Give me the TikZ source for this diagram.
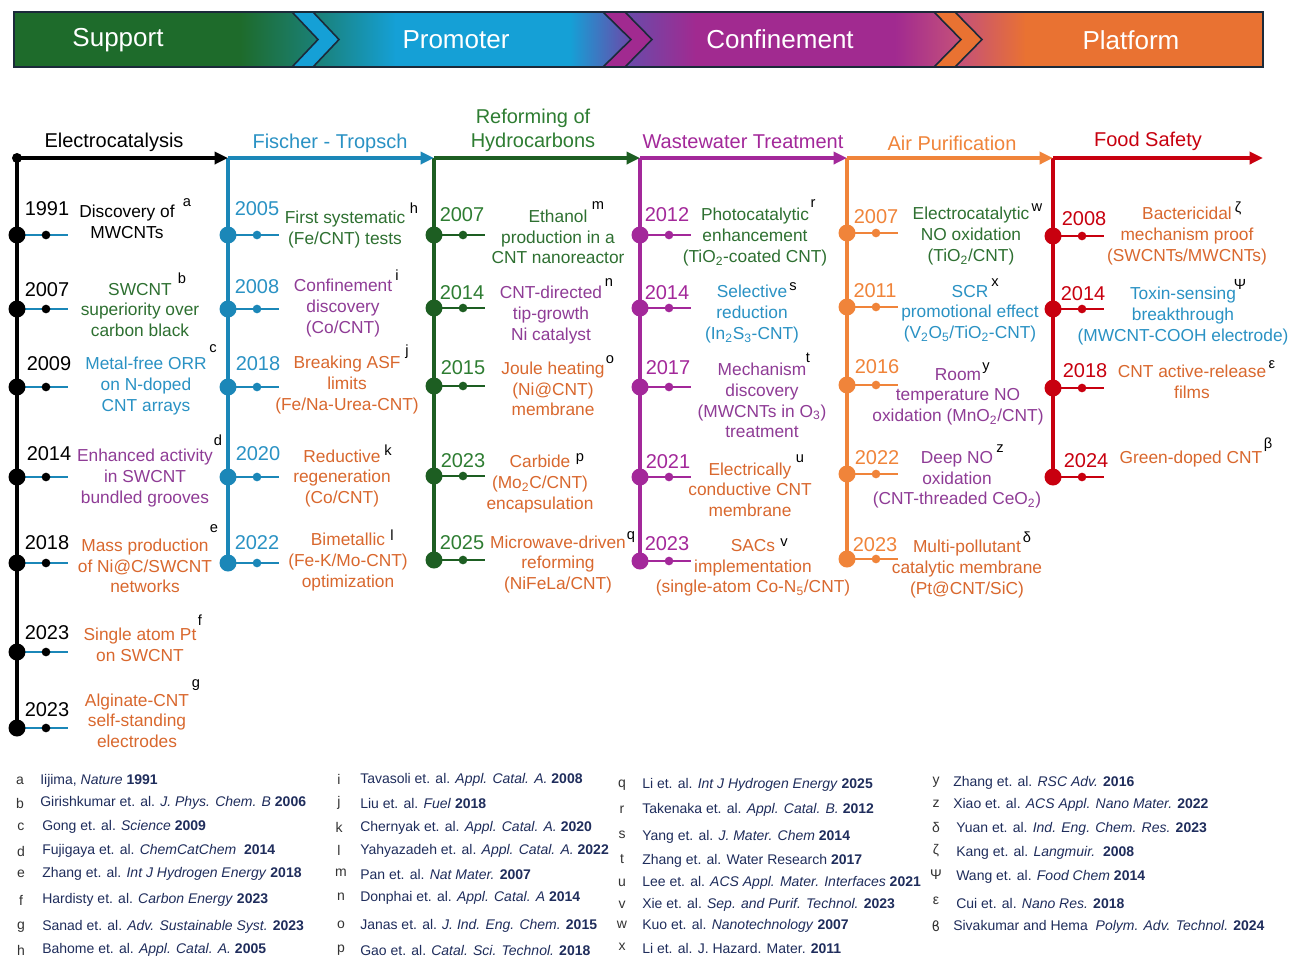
\documentclass[tikz,border=0pt]{standalone}
\usepackage{fontspec}
\setmainfont{Liberation Sans}
\newfontfamily\dejavu{DejaVu Sans}
\usetikzlibrary{arrows.meta}
\definecolor{bnGreen}{HTML}{1E6B2B}
\definecolor{bnTeal}{HTML}{1A8077}
\definecolor{bnBlue}{HTML}{15A0D6}
\definecolor{bnViolet}{HTML}{6A4AAA}
\definecolor{bnPurple}{HTML}{A12A90}
\definecolor{bnRose}{HTML}{C4507A}
\definecolor{bnOrange}{HTML}{E97232}
\definecolor{bnNavy}{HTML}{1B2A3A}
\definecolor{tlBlue}{HTML}{1B87B8}
\definecolor{tlGreen}{HTML}{1D5E22}
\definecolor{tlPurple}{HTML}{A3289A}
\definecolor{tlOrange}{HTML}{F0843A}
\definecolor{tlRed}{HTML}{C8000F}
\definecolor{txGreen}{HTML}{2E7031}
\definecolor{txBlue}{HTML}{2A92C4}
\definecolor{txPurple}{HTML}{8F3C96}
\definecolor{txOrange}{HTML}{D9682E}
\definecolor{hdGreen}{HTML}{2E7D32}
\definecolor{refNavy}{HTML}{1F2D5C}
\definecolor{letGray}{HTML}{333333}
\newcommand\lblfont{\fontsize{13}{15.5}\selectfont}
\newcommand\yrfont{\fontsize{15}{18}\selectfont}
\newcommand\hdfont{\fontsize{15}{18}\selectfont}
\newcommand\bnfont{\fontsize{19.5}{23}\selectfont}
\newcommand\reffont{\fontsize{10.5}{12}\selectfont}
\newcommand\supfont{\fontsize{11}{12}\selectfont}
\newcommand\tev[5]{%
  \coordinate (#1) at (#4,#5);
  \coordinate (#1e) at (#4+51,#5);
  \draw[stub,#2] (#1) -- (#1e);
  \node[bigdot,fill=#3] (#1d) at (#1) {};
  \node[smalldot,fill=#3] (#1s) at (#4+29,#5) {};
}
\begin{document}
\begin{tikzpicture}[x=0.75pt,y=-0.75pt,
 bigdot/.style={circle, inner sep=0pt, minimum size=12.75pt},
 smalldot/.style={circle, inner sep=0pt, minimum size=6.5pt},
 stub/.style={line width=1.9pt},
 vline/.style={line width=2.3pt},
 axis/.style={line width=2.6pt, -{Triangle[length=10pt,width=9pt]}},
 lbl/.style={font=\lblfont, align=center, inner sep=0pt},
 yr/.style={font=\yrfont, inner sep=0pt},
 hd/.style={font=\hdfont, align=center, inner sep=0pt},
 sp/.style={font=\supfont, inner sep=0pt, text=black},
 bn/.style={font=\bnfont, text=white, inner sep=0pt},
 rl/.style={font=\reffont, inner sep=0pt, text=letGray},
 rt/.style={font=\reffont, inner sep=0pt, text=refNavy, anchor=west},
 chev/.style={draw=bnNavy, line width=1.2pt, line join=miter}]
\fill[white] (0,0) rectangle (1290,957);
\useasboundingbox (0,0) rectangle (1290,957);
% ---------------- banner ----------------
\fill[bnGreen] (14,12) rectangle (241,67);
\shade[left color=bnGreen, right color=bnTeal] (240,12) rectangle (317,67);
\shade[left color=bnTeal, right color=bnBlue] (316,12) rectangle (396,67);
\fill[bnBlue] (395,12) rectangle (571,67);
\shade[left color=bnBlue, right color=bnViolet] (570,12) rectangle (629,67);
\shade[left color=bnViolet, right color=bnPurple] (628,12) rectangle (696,67);
\fill[bnPurple] (695,12) rectangle (896,67);
\shade[left color=bnPurple, right color=bnRose] (895,12) rectangle (959,67);
\shade[left color=bnRose, right color=bnOrange] (958,12) rectangle (1026,67);
\fill[bnOrange] (1025,12) rectangle (1263,67);
\draw[chev, fill=bnBlue] (292,12) -- (313,12) -- (339,39.5) -- (313,67) -- (292,67) -- (318,39.5) -- cycle;
\draw[chev, fill=bnPurple] (603,12) -- (625,12) -- (652,39.5) -- (625,67) -- (603,67) -- (631,39.5) -- cycle;
\draw[chev, fill=bnOrange] (934,12) -- (955,12) -- (982,39.5) -- (955,67) -- (934,67) -- (961,39.5) -- cycle;
\draw[bnNavy, line width=1.5pt] (14,12) rectangle (1263,67);
\node[bn] (b1) at (118,40) {Support};
\node[bn] (b2) at (456,40) {Promoter};
\node[bn] (b3) at (780,39) {Confinement};
\node[bn] (b4) at (1131,40) {Platform};
% ---------------- headings ----------------
\node[hd] (h1) at (114,142) {Electrocatalysis};
\node[hd, text=txBlue] (h2) at (330,143) {Fischer - Tropsch};
\node[hd, text=hdGreen] (h3) at (533,130) {Reforming of\\Hydrocarbons};
\node[hd, text=tlPurple] (h4) at (743,142) {Wastewater Treatment};
\node[hd, text=tlOrange] (h5) at (952,143) {Air Purification};
\node[hd, text=tlRed] (h6) at (1148,141) {Food Safety};
% ---------------- axis ----------------
\coordinate (ax1) at (228,158);
\coordinate (ax2) at (434,158);
\coordinate (ax3) at (640,158);
\coordinate (ax4) at (847,158);
\coordinate (ax5) at (1053,158);
\coordinate (ax6) at (1263,158);
\coordinate (v0) at (17,728);
\coordinate (v1) at (228,563);
\coordinate (v2) at (434,560);
\coordinate (v3) at (640,561);
\coordinate (v4) at (847,559);
\coordinate (v5) at (1053,477);
\node[circle, fill=black, inner sep=0pt, minimum size=7.5pt] (ax0) at (17,158) {};
\draw[vline, black] (ax0.center) -- (v0);
\draw[vline, tlBlue] (ax1) -- (v1);
\draw[vline, tlGreen] (ax2) -- (v2);
\draw[vline, tlPurple] (ax3) -- (v3);
\draw[vline, tlOrange] (ax4) -- (v4);
\draw[vline, tlRed] (ax5) -- (v5);
\draw[axis, black] (ax0.center) -- (ax1);
\draw[axis, tlBlue] (ax1) -- (ax2);
\draw[axis, tlGreen] (ax2) -- (ax3);
\draw[axis, tlPurple] (ax3) -- (ax4);
\draw[axis, tlOrange] (ax4) -- (ax5);
\draw[axis, tlRed] (ax5) -- (ax6);
% ---------------- Electrocatalysis ----------------
\tev{ea}{tlBlue}{black}{17}{235}
\tev{eb}{tlBlue}{black}{17}{309}
\tev{ec}{tlBlue}{black}{17}{387}
\tev{ed}{tlBlue}{black}{17}{477}
\tev{ee}{tlBlue}{black}{17}{563}
\tev{ef}{tlBlue}{black}{17}{652}
\tev{eg}{tlBlue}{black}{17}{728}
\node[yr] (ya) at (47,209) {1991};
\node[yr] (yb) at (47,290) {2007};
\node[yr] (yc) at (49,364) {2009};
\node[yr] (yd) at (49,454) {2014};
\node[yr] (ye) at (47,543) {2018};
\node[yr] (yf) at (47,633) {2023};
\node[yr] (yg) at (47,710) {2023};
\node[lbl] (la) at (127,222) {Discovery of\\MWCNTs};
\node[lbl, text=txGreen] (lb) at (140,310) {SWCNT\\superiority over\\carbon black};
\node[lbl, text=txBlue] (lc) at (146,386) {Metal-free ORR\\on N-doped\\CNT arrays};
\node[lbl, text=txPurple] (ld) at (145,478) {Enhanced activity\\in SWCNT\\bundled grooves};
\node[lbl, text=txOrange] (le) at (145,566) {Mass production\\of Ni@C/SWCNT\\networks};
\node[lbl, text=txOrange] (lf) at (140,644.5) {Single atom Pt\\on SWCNT};
\node[lbl, text=txOrange] (lg) at (137,720.5) {Alginate-CNT\\self-standing\\electrodes};
\node[sp] (sa) at (187,203) {a};
\node[sp] (sb) at (182,278) {b};
\node[sp] (sc) at (213,349) {c};
\node[sp] (sd) at (218,440) {d};
\node[sp] (se) at (214,529) {e};
\node[sp] (sf) at (200,620) {f};
\node[sp] (sg) at (196,685) {g};
% ---------------- Fischer-Tropsch ----------------
\tev{eh}{tlBlue}{tlBlue}{228}{235}
\tev{ei}{tlBlue}{tlBlue}{228}{309}
\tev{ej}{tlBlue}{tlBlue}{228}{387}
\tev{ek}{tlBlue}{tlBlue}{228}{477}
\tev{el}{tlBlue}{tlBlue}{228}{563}
\node[yr, text=txBlue] (yh) at (257,209) {2005};
\node[yr, text=txBlue] (yi) at (257,287) {2008};
\node[yr, text=txBlue] (yj) at (258,364) {2018};
\node[yr, text=txBlue] (yk) at (258,454) {2020};
\node[yr, text=txBlue] (yl) at (257,543) {2022};
\node[lbl, text=txGreen] (lh) at (345,229.5) {First systematic\\(Fe/CNT) tests};
\node[lbl, text=txPurple] (li) at (343,308) {Confinement\\discovery\\(Co/CNT)};
\node[lbl, text=txOrange] (lj) at (347,385) {Breaking ASF\\limits\\(Fe/Na-Urea-CNT)};
\node[lbl, text=txOrange] (lk) at (342,478.5) {Reductive\\regeneration\\(Co/CNT)};
\node[lbl, text=txOrange] (ll) at (348,562) {Bimetallic\\(Fe-K/Mo-CNT)\\optimization};
\node[sp] (sh) at (414,208) {h};
\node[sp] (si) at (397,275) {i};
\node[sp] (sj) at (407,352) {j};
\node[sp] (sk) at (388,450) {k};
\node[sp] (sl) at (392,535) {l};
% ---------------- Reforming ----------------
\tev{em}{tlGreen}{tlGreen}{434}{235}
\tev{en}{tlGreen}{tlGreen}{434}{308}
\tev{eo}{tlGreen}{tlGreen}{434}{386}
\tev{ep}{tlGreen}{tlGreen}{434}{476}
\tev{eq}{tlGreen}{tlGreen}{434}{560}
\node[yr, text=hdGreen] (ym) at (462,215) {2007};
\node[yr, text=hdGreen] (yn) at (462,293) {2014};
\node[yr, text=hdGreen] (yo) at (463,368) {2015};
\node[yr, text=hdGreen] (yp) at (463,461) {2023};
\node[yr, text=hdGreen] (yq) at (462,543) {2025};
\node[lbl, text=txGreen] (lm) at (558,237) {Ethanol\\production in a\\CNT nanoreactor};
\node[lbl, text=txPurple] (ln) at (551,315) {CNT-directed\\tip-growth\\Ni catalyst};
\node[lbl, text=txOrange] (lo) at (553,389) {Joule heating\\(Ni@CNT)\\membrane};
\node[lbl, text=txOrange] (lp) at (540,484) {Carbide\\(Mo\textsubscript{2}C/CNT)\\encapsulation};
\node[lbl, text=txOrange] (lq) at (558,564.5) {Microwave-driven\\reforming\\(NiFeLa/CNT)};
\node[sp] (sm) at (598,206) {m};
\node[sp] (sn) at (609,283) {n};
\node[sp] (so) at (610,360) {o};
\node[sp] (spp) at (580,459) {p};
\node[sp] (sq) at (631,537) {q};
% ---------------- Wastewater ----------------
\tev{er}{tlPurple}{tlPurple}{640}{235}
\tev{es}{tlPurple}{tlPurple}{640}{308}
\tev{et}{tlPurple}{tlPurple}{640}{387}
\tev{eu}{tlPurple}{tlPurple}{640}{477}
\tev{ev}{tlPurple}{tlPurple}{640}{561}
\node[yr, text=tlPurple] (yr1) at (667,215) {2012};
\node[yr, text=tlPurple] (ys) at (667,293) {2014};
\node[yr, text=tlPurple] (yt) at (668,368) {2017};
\node[yr, text=tlPurple] (yu) at (668,462) {2021};
\node[yr, text=tlPurple] (yv) at (667,544) {2023};
\node[lbl, text=txGreen] (lr) at (755,237) {Photocatalytic\\enhancement\\(TiO\textsubscript{2}-coated CNT)};
\node[lbl, text=txBlue] (ls) at (752,314) {Selective\\reduction\\(In\textsubscript{2}S\textsubscript{3}-CNT)};
\node[lbl, text=txPurple] (lt) at (762,400.5) {Mechanism\\discovery\\(MWCNTs in O\textsubscript{3})\\treatment};
\node[lbl, text=txOrange] (lu) at (750,489.5) {Electrically\\conductive CNT\\membrane};
\node[lbl, text=txOrange] (lv) at (753,568) {SACs\\implementation\\(single-atom Co-N\textsubscript{5}/CNT)};
\node[sp] (sr) at (813,204) {r};
\node[sp] (ss) at (793,287) {s};
\node[sp] (st) at (808,358) {t};
\node[sp] (su) at (800,459) {u};
\node[sp] (sv) at (784,543) {v};
% ---------------- Air purification ----------------
\tev{ew}{tlOrange}{tlOrange}{847}{233}
\tev{ex}{tlOrange}{tlOrange}{847}{307}
\tev{ey}{tlOrange}{tlOrange}{847}{385}
\tev{ez}{tlOrange}{tlOrange}{847}{474}
\tev{edl}{tlOrange}{tlOrange}{847}{559}
\node[yr, text=tlOrange] (yw) at (876,217) {2007};
\node[yr, text=tlOrange] (yx) at (875,291) {2011};
\node[yr, text=tlOrange] (yy) at (877,367) {2016};
\node[yr, text=tlOrange] (yz) at (877,458) {2022};
\node[yr, text=tlOrange] (ydl) at (875,545) {2023};
\node[lbl, text=txGreen] (lw) at (971,236) {Electrocatalytic\\NO oxidation\\(TiO\textsubscript{2}/CNT)};
\node[lbl, text=txBlue] (lx) at (970,313.5) {SCR\\promotional effect\\(V\textsubscript{2}O\textsubscript{5}/TiO\textsubscript{2}-CNT)};
\node[lbl, text=txPurple] (ly) at (958,396.5) {Room\\temperature NO\\oxidation (MnO\textsubscript{2}/CNT)};
\node[lbl, text=txPurple] (lz) at (957,480) {Deep NO\\oxidation\\(CNT-threaded CeO\textsubscript{2})};
\node[lbl, text=txOrange] (ldl) at (967,569) {Multi-pollutant\\catalytic membrane\\(Pt@CNT/SiC)};
\node[sp] (sw) at (1037,208) {w};
\node[sp] (sx) at (995,283) {x};
\node[sp] (sy) at (986,368) {y};
\node[sp] (sz) at (1000,449) {z};
\node[sp] (sdl) at (1027,537) {δ};
% ---------------- Food safety ----------------
\tev{ezt}{tlRed}{tlRed}{1053}{236}
\tev{eps}{tlRed}{tlRed}{1053}{309}
\tev{eep}{tlRed}{tlRed}{1053}{388}
\tev{ebt}{tlRed}{tlRed}{1053}{477}
\node[yr, text=tlRed] (yzt) at (1084,219) {2008};
\node[yr, text=tlRed] (yps) at (1083,294) {2014};
\node[yr, text=tlRed] (yep) at (1085,371) {2018};
\node[yr, text=tlRed] (ybt) at (1086,461) {2024};
\node[lbl, text=txOrange] (lzt) at (1187,236) {Bactericidal\\mechanism proof\\(SWCNTs/MWCNTs)};
\node[lbl, text=txBlue] (lps) at (1183,316) {Toxin-sensing\\breakthrough\\(MWCNT-COOH electrode)};
\node[lbl, text=txOrange] (lep) at (1192,381.5) {CNT active-release\\films};
\node[lbl, text=txOrange] (lbt) at (1191,459) {Green-doped CNT};
\node[sp] (szt) at (1238,208) {ζ};
\node[sp] (sps) at (1240,284) {Ψ};
\node[sp] (sep) at (1272,365) {ε};
\node[sp] (sbt) at (1268,445) {β};
% ---------------- references ----------------
\node[rl] (ra) at (20,781) {a};  \node[rt] (ta) at (40,781) {Iijima, \textit{Nature} \textbf{1991}};
\node[rl] (rb) at (20,803) {b};  \node[rt] (tb) at (40,803) {Girishkumar et. al. \textit{J. Phys. Chem. B} \textbf{2006}};
\node[rl] (rc) at (21,827) {c};  \node[rt] (tc) at (42,827) {Gong et. al. \textit{Science} \textbf{2009}};
\node[rl] (rd) at (21,851) {d};  \node[rt] (td) at (42,851) {Fujigaya et. al. \textit{ChemCatChem}\ \ \textbf{2014}};
\node[rl] (re) at (21,874) {e};  \node[rt] (te) at (42,874) {Zhang et. al. \textit{Int J Hydrogen Energy} \textbf{2018}};
\node[rl] (rf) at (21,900) {f};  \node[rt] (tf) at (42,900) {Hardisty et. al. \textit{Carbon Energy} \textbf{2023}};
\node[rl] (rg) at (21,927) {g};  \node[rt] (tg) at (42,927) {Sanad et. al. \textit{Adv. Sustainable Syst.} \textbf{2023}};
\node[rl] (rh) at (21,950) {h};  \node[rt] (th) at (42,950) {Bahome et. al. \textit{Appl. Catal. A.} \textbf{2005}};
\node[rl] (ri) at (339,779) {i};  \node[rt] (ti) at (360,780) {Tavasoli et. al. \textit{Appl. Catal. A.} \textbf{2008}};
\node[rl] (rj) at (339,803) {j};  \node[rt] (tj) at (360,803) {Liu et. al. \textit{Fuel} \textbf{2018}};
\node[rl] (rk) at (339,827) {k};  \node[rt] (tk) at (360,828) {Chernyak et. al. \textit{Appl. Catal. A.} \textbf{2020}};
\node[rl] (rl1) at (339,850) {l}; \node[rt] (tl) at (360,851) {Yahyazadeh et. al. \textit{Appl. Catal. A.} \textbf{2022}};
\node[rl] (rm) at (341,873) {m};  \node[rt] (tm) at (360,874) {Pan et. al. \textit{Nat Mater.} \textbf{2007}};
\node[rl] (rn) at (341,897) {n};  \node[rt] (tn) at (360,898) {Donphai et. al. \textit{Appl. Catal. A} \textbf{2014}};
\node[rl] (ro) at (341,925) {o};  \node[rt] (to) at (360,926) {Janas et. al. \textit{J. Ind. Eng. Chem.} \textbf{2015}};
\node[rl] (rp) at (341,950) {p};  \node[rt] (tp) at (360,950) {Gao et. al. \textit{Catal. Sci. Technol.} \textbf{2018}};
\node[rl] (rq) at (622,785) {q};  \node[rt] (tq) at (642,785) {Li et. al. \textit{Int J Hydrogen Energy} \textbf{2025}};
\node[rl] (rr) at (622,810) {r};  \node[rt] (tr) at (642,810) {Takenaka et. al. \textit{Appl. Catal. B.} \textbf{2012}};
\node[rl] (rs) at (622,835) {s};  \node[rt] (ts) at (642,837) {Yang et. al. \textit{J. Mater. Chem} \textbf{2014}};
\node[rl] (rt1) at (622,859) {t}; \node[rt] (tt) at (642,861) {Zhang et. al. Water Research \textbf{2017}};
\node[rl] (ru) at (622,883) {u};  \node[rt] (tu) at (642,883) {Lee et. al. \textit{ACS Appl. Mater. Interfaces} \textbf{2021}};
\node[rl] (rv) at (622,905) {v};  \node[rt] (tv) at (642,905) {Xie et. al. \textit{Sep. and Purif. Technol.} \textbf{2023}};
\node[rl] (rw) at (622,925) {w};  \node[rt] (tw) at (642,926) {Kuo et. al. \textit{Nanotechnology} \textbf{2007}};
\node[rl] (rx) at (622,947) {x};  \node[rt] (tx) at (642,948) {Li et. al. J. Hazard. Mater. \textbf{2011}};
\node[rl] (ry) at (936,782) {y};  \node[rt] (ty) at (953,783) {Zhang et. al. \textit{RSC Adv.} \textbf{2016}};
\node[rl] (rz) at (936,804) {z};  \node[rt] (tz) at (953,805) {Xiao et. al. \textit{ACS Appl. Nano Mater.} \textbf{2022}};
\node[rl] (rdl) at (936,827) {δ}; \node[rt] (tdl) at (956,829) {Yuan et. al. \textit{Ind. Eng. Chem. Res.} \textbf{2023}};
\node[rl] (rzt) at (936,851) {ζ}; \node[rt] (tzt) at (956,853) {Kang et. al. \textit{Langmuir.}\ \ \textbf{2008}};
\node[rl] (rps) at (936,875) {Ψ}; \node[rt] (tps) at (956,877) {Wang et. al. \textit{Food Chem} \textbf{2014}};
\node[rl] (rep) at (936,901) {ε}; \node[rt] (tep) at (956,903) {Cui et. al. \textit{Nano Res.} \textbf{2018}};
\node[rl] (rbt) at (936,926) {\dejavu ϐ}; \node[rt] (tbt) at (953,927) {Sivakumar and Hema\ \ \textit{Polym. Adv. Technol.} \textbf{2024}};
\end{tikzpicture}
\end{document}
